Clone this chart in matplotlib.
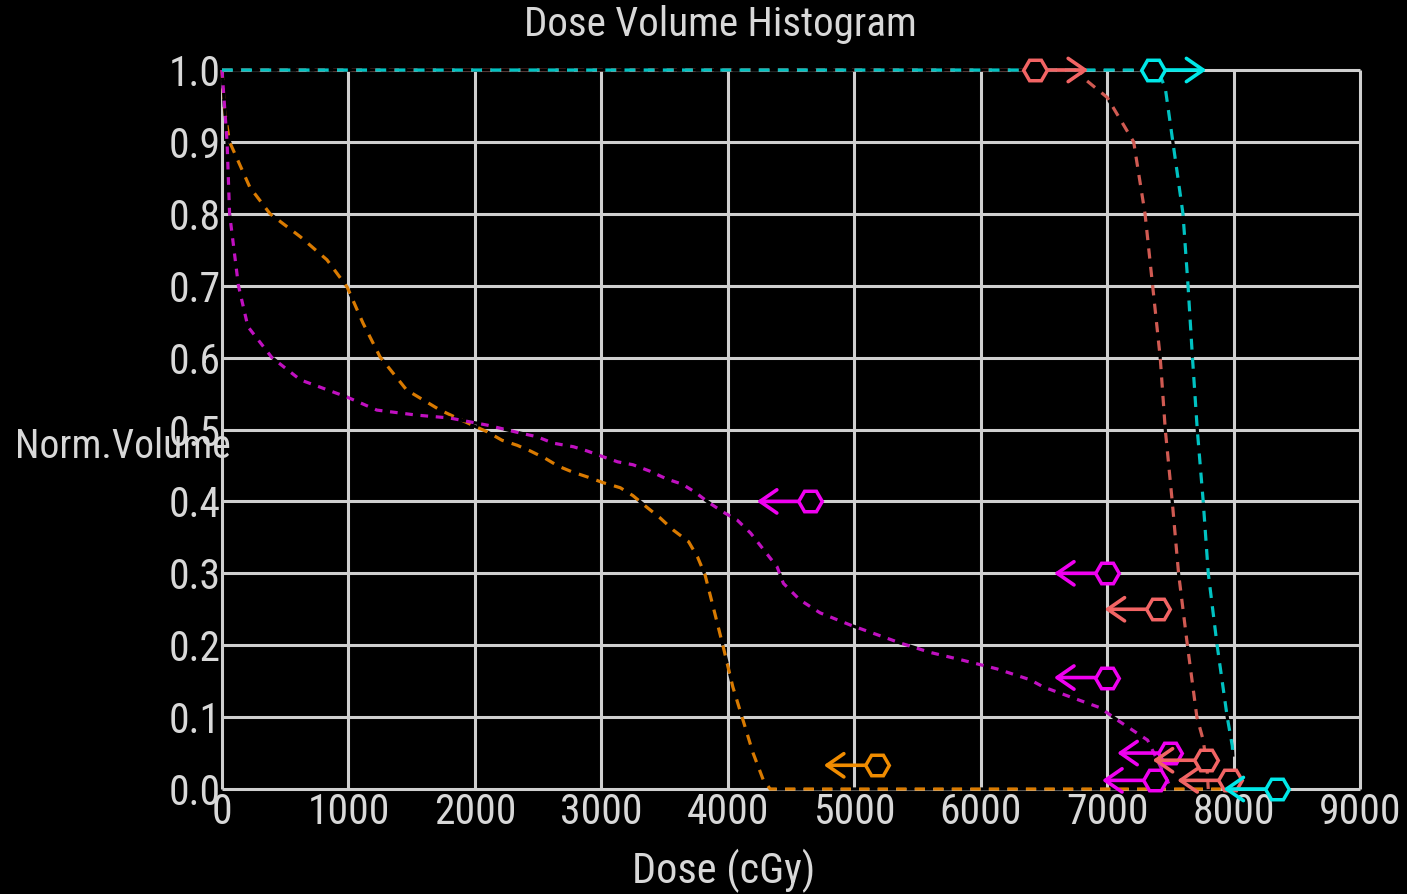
import matplotlib
matplotlib.use("Agg")
import matplotlib.pyplot as plt
from matplotlib import font_manager

# ---------------- data ----------------
x_ticks = [0, 1000, 2000, 3000, 4000, 5000, 6000, 7000, 8000, 9000]
y_ticks = [0.0, 0.1, 0.2, 0.3, 0.4, 0.5, 0.6, 0.7, 0.8, 0.9, 1.0]
x_tick_labels = ["0", "1000", "2000", "3000", "4000", "5000", "6000", "7000", "8000", "9000"]
y_tick_labels = ["0.0", "0.1", "0.2", "0.3", "0.4", "0.5", "0.6", "0.7", "0.8", "0.9", "1.0"]

orange_dose = [0, 20, 60, 220, 380, 620, 830, 990, 1115, 1250, 1460, 1725, 1980, 2095, 2215,
               2335, 2440, 2555, 2660, 2770, 2890, 3015, 3150, 3250, 3345, 3465, 3570, 3690,
               3760, 3820, 3885, 3965, 4040, 4120, 4200, 4280, 4335, 7900]
orange_vol = [1.0, 0.944, 0.9, 0.837, 0.8, 0.768, 0.736, 0.698, 0.648, 0.601, 0.555, 0.527, 0.506,
              0.497, 0.485, 0.478, 0.47, 0.46, 0.449, 0.441, 0.434, 0.426, 0.419, 0.408, 0.394,
              0.377, 0.36, 0.344, 0.323, 0.298, 0.253, 0.197, 0.142, 0.096, 0.05, 0.013, 0.0, 0.0]

magenta_dose = [0, 20, 40, 60, 130, 205, 395, 620, 990, 1225, 1540, 1800, 2100, 2360, 2490, 2620,
                2780, 2890, 3015, 3130, 3250, 3385, 3520, 3640, 3740, 3845, 3965, 4075, 4180,
                4390, 4440, 4570, 4730, 4970, 5365, 5600, 5860, 6130, 6390, 6495, 6710, 6945,
                7080, 7320, 7500]
magenta_vol = [1.0, 0.95, 0.9, 0.8, 0.7, 0.643, 0.6, 0.569, 0.545, 0.527, 0.52, 0.516, 0.506, 0.495,
               0.49, 0.481, 0.476, 0.47, 0.462, 0.455, 0.451, 0.442, 0.431, 0.424, 0.413, 0.399,
               0.385, 0.374, 0.356, 0.309, 0.286, 0.263, 0.245, 0.228, 0.203, 0.19, 0.179, 0.167,
               0.152, 0.142, 0.128, 0.113, 0.096, 0.068, 0.003]

red_dose = [0, 6780, 6840, 7000, 7210, 7300, 7360, 7420, 7460, 7515, 7565, 7635, 7710, 7760, 7790, 7800]
red_vol = [1.0, 1.0, 0.985, 0.962, 0.9, 0.8, 0.7, 0.6, 0.5, 0.4, 0.3, 0.2, 0.1, 0.068, 0.03, 0.0]

cyan_dose = [0, 7400, 7460, 7520, 7600, 7640, 7675, 7713, 7760, 7800, 7870, 7910, 7950, 7990, 7995]
cyan_vol = [1.0, 1.0, 0.975, 0.9, 0.8, 0.7, 0.6, 0.5, 0.4, 0.3, 0.2, 0.15, 0.1, 0.06, 0.045]

# constraint markers: (dose, volume, direction)  direction -1 = arrow left, +1 = arrow right
orange_marks = [(5180, 0.033, -1)]
magenta_marks = [(4650, 0.4, -1), (7000, 0.3, -1), (7000, 0.155, -1), (7500, 0.05, -1), (7380, 0.012, -1)]
red_marks = [(6430, 1.0, 1), (7400, 0.25, -1), (7780, 0.04, -1), (7975, 0.012, -1)]
cyan_marks = [(7365, 1.0, 1), (8340, 0.0, -1)]

title = "Dose Volume Histogram"
x_label = "Dose (cGy)"
y_label = "Norm.Volume"

# ---------------- font: prefer a narrow / condensed sans ----------------
def pick_font():
    fl = font_manager.fontManager.ttflist
    prefs = ["Liberation Sans Narrow", "Roboto Condensed", "Open Sans Condensed",
             "DejaVu Sans Condensed"]
    for p in prefs:
        for f in fl:
            if f.name == p and f.style == "normal" and f.weight in (400, "normal", "regular"):
                return font_manager.FontProperties(fname=f.fname)
    for f in fl:
        st = str(f.stretch).lower()
        if ("condensed" in st or "narrow" in f.name.lower() or "condensed" in f.name.lower()) \
                and f.style == "normal" and "bold" not in str(f.weight).lower() \
                and (not isinstance(f.weight, int) or f.weight <= 400) \
                and "mono" not in f.name.lower() and "serif" not in f.name.lower():
            return font_manager.FontProperties(fname=f.fname)
    return None

FP = pick_font()
CONDENSED = FP is not None
if FP is None:
    FP = font_manager.FontProperties(family="DejaVu Sans")

def fp(size):
    p = FP.copy()
    p.set_size(size)
    return p

TXT = "#d8d8d8"
GRID = "#cfcfcf"

W, H = 1407, 894
fig = plt.figure(figsize=(W / 100, H / 100), dpi=100, facecolor="black")
ax = fig.add_axes([222 / W, 1 - 789 / H, (1360 - 222) / W, (789 - 70) / H])
ax.set_facecolor("black")
ax.set_xlim(0, 9000)
ax.set_ylim(0, 1)
for s in ax.spines.values():
    s.set_visible(False)

# grid
ax.vlines(x_ticks, 0, 1, colors=GRID, lw=2.2, zorder=1, clip_on=False)
ax.hlines(y_ticks, 0, 9000, colors=GRID, lw=2.2, zorder=1, clip_on=False)

tick_size = 30 if CONDENSED else 22
ax.set_xticks(x_ticks)
ax.set_xticklabels(x_tick_labels, fontproperties=fp(tick_size))
ax.set_yticks(y_ticks)
ax.set_yticklabels(y_tick_labels, fontproperties=fp(tick_size))
ax.tick_params(length=0, colors=TXT, pad=2)
ax.tick_params(axis="y", pad=1)

series = [
    (orange_dose, orange_vol, "#d97a00", "#f08c00", orange_marks, (3.2, 2.6)),
    (magenta_dose, magenta_vol, "#c010c0", "#f000f0", magenta_marks, (2.4, 2.4)),
    (red_dose, red_vol, "#d05a52", "#f26464", red_marks, (3.2, 2.6)),
    (cyan_dose, cyan_vol, "#00c2c2", "#00e8e8", cyan_marks, (3.4, 2.6)),
]

for i, (dose, vol, lc, mc, marks, dash) in enumerate(series):
    ax.plot(dose, vol, color=lc, lw=2.3, linestyle=(0, dash), gapcolor="black",
            zorder=3 + i, clip_on=False, solid_capstyle="butt", dash_capstyle="butt")

for i, (dose, vol, lc, mc, marks, dash) in enumerate(series):
    z = 20 + 3 * i
    for (mx, my, d) in marks:
        ax.annotate("", xy=(mx + d * 420, my), xytext=(mx, my),
                    arrowprops=dict(arrowstyle="->,head_length=0.55,head_width=0.38",
                                    color=mc, lw=2.6, mutation_scale=22,
                                    shrinkA=0, shrinkB=0),
                    zorder=z, annotation_clip=False)
        ax.plot([mx], [my], marker="H", ms=17, mfc="black", mec=mc, mew=2.5,
                zorder=z + 1, clip_on=False)

lab_size = 30.5 if CONDENSED else 22
fig.text(720 / W, 1 - 25 / H, title, color=TXT, fontproperties=fp(29.5 if CONDENSED else 22),
         ha="center", va="center")
fig.text(724 / W, 1 - 871 / H, x_label, color=TXT, fontproperties=fp(lab_size),
         ha="center", va="center")
fig.text(15 / W, 1 - 447 / H, y_label, color=TXT, fontproperties=fp(28.5 if CONDENSED else 22),
         ha="left", va="center", zorder=10)

fig.savefig("out.png", dpi=100, facecolor="black")
